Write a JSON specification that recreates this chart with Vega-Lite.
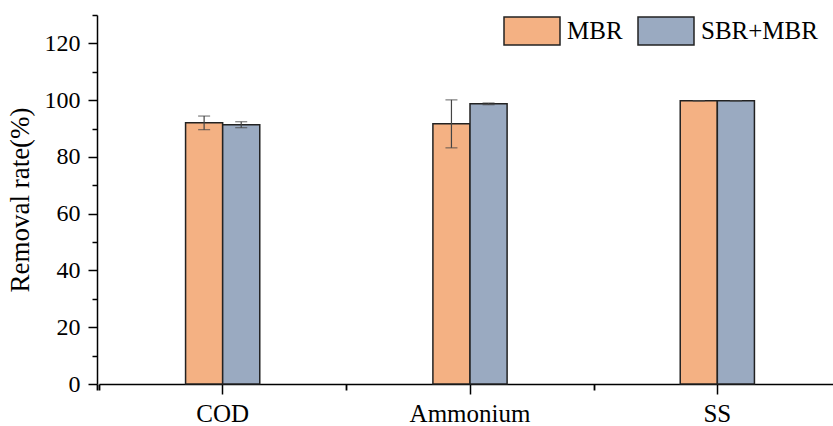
{
  "$schema": "https://vega.github.io/schema/vega-lite/v6.json",
  "width": 736,
  "height": 369,
  "autosize": "none",
  "padding": {"left": 97, "top": 15, "right": 0, "bottom": 42},
  "background": "white",
  "config": {
    "view": {"stroke": null},
    "font": "Liberation Serif",
    "axis": {"domainColor": "black", "domainWidth": 1.5, "tickColor": "black", "tickWidth": 1.5, "labelColor": "black", "titleColor": "black", "labelFont": "Liberation Serif", "titleFont": "Liberation Serif", "grid": false},
    "legend": {"labelFont": "Liberation Serif"}
  },
  "data": {
    "values": [
      {"category": "COD", "group": "MBR", "value": 92.0, "lo": 89.6, "hi": 94.4},
      {"category": "COD", "group": "SBR+MBR", "value": 91.3, "lo": 90.3, "hi": 92.4},
      {"category": "Ammonium", "group": "MBR", "value": 91.7, "lo": 83.2, "hi": 100.1},
      {"category": "Ammonium", "group": "SBR+MBR", "value": 98.7, "lo": 98.4, "hi": 99.0},
      {"category": "SS", "group": "MBR", "value": 99.8, "lo": 99.8, "hi": 99.8},
      {"category": "SS", "group": "SBR+MBR", "value": 99.8, "lo": 99.8, "hi": 99.8}
    ]
  },
  "encoding": {
    "x": {"field": "category", "type": "nominal", "sort": ["COD", "Ammonium", "SS"],
      "scale": {"range": [2, 744], "paddingInner": 0.7, "paddingOuter": 0.35}},
    "xOffset": {"field": "group", "type": "nominal", "sort": ["MBR", "SBR+MBR"], "scale": {"paddingInner": 0, "paddingOuter": 0}}
  },
  "layer": [
    {
      "mark": {"type": "bar", "stroke": "#222", "strokeWidth": 1.5},
      "encoding": {
        "x": {"field": "category", "type": "nominal", "sort": ["COD", "Ammonium", "SS"],
          "axis": {"title": null, "labelFontSize": 25, "labelFont": "Liberation Serif", "tickSize": 10, "labelPadding": 7, "labelAngle": 0, "orient": "bottom"}},
        "y": {"field": "value", "type": "quantitative", "scale": {"domain": [0, 130], "nice": false},
          "axis": {"title": "Removal rate(%)", "titleFontSize": 27, "titleFont": "Liberation Serif", "titleFontWeight": "normal", "titlePadding": 10,
            "values": [0, 10, 20, 30, 40, 50, 60, 70, 80, 90, 100, 110, 120, 130],
            "labelExpr": "datum.value % 20 === 0 && datum.value < 130 ? datum.label : ''",
            "tickSize": {"condition": {"test": "datum.value % 20 !== 0", "value": 5}, "value": 9},
            "labelFontSize": 24, "labelFont": "Liberation Serif", "labelPadding": 8, "orient": "left"}},
        "color": {"field": "group", "type": "nominal", "sort": ["MBR", "SBR+MBR"],
          "scale": {"domain": ["MBR", "SBR+MBR"], "range": ["#F4B183", "#9AAAC1"]},
          "legend": {"title": null, "orient": "none", "legendX": 406, "legendY": -13, "direction": "horizontal",
            "symbolType": "M-1,-0.5H1V0.5H-1Z", "symbolSize": 3136, "symbolStrokeColor": "#222", "symbolStrokeWidth": 1.5,
            "labelFontSize": 25, "labelColor": "black", "labelOffset": 6, "columnPadding": 12, "symbolOpacity": 1}}
      }
    },
    {
      "mark": {"type": "rule", "color": "#444", "strokeWidth": 1.2},
      "encoding": {
        "x": {"field": "category", "type": "nominal", "sort": ["COD", "Ammonium", "SS"],
          "axis": {"title": null, "labels": false, "domain": false, "bandPosition": 0, "tickExtra": true, "tickOffset": -86.6, "tickSize": 6, "tickWidth": 1.8, "orient": "bottom", "offset": 0}},
        "y": {"field": "lo", "type": "quantitative", "axis": null},
        "y2": {"field": "hi"}
      }
    },
    {
      "mark": {"type": "tick", "color": "#444", "thickness": 1.2, "size": 12},
      "encoding": {
        "x": {"field": "category", "type": "nominal", "sort": ["COD", "Ammonium", "SS"], "axis": null},
        "y": {"field": "lo", "type": "quantitative", "axis": null}}
    },
    {
      "mark": {"type": "tick", "color": "#444", "thickness": 1.2, "size": 12},
      "encoding": {
        "x": {"field": "category", "type": "nominal", "sort": ["COD", "Ammonium", "SS"], "axis": null},
        "y": {"field": "hi", "type": "quantitative", "axis": null}}
    }
  ],
  "resolve": {"axis": {"x": "independent", "y": "independent"}}
}
